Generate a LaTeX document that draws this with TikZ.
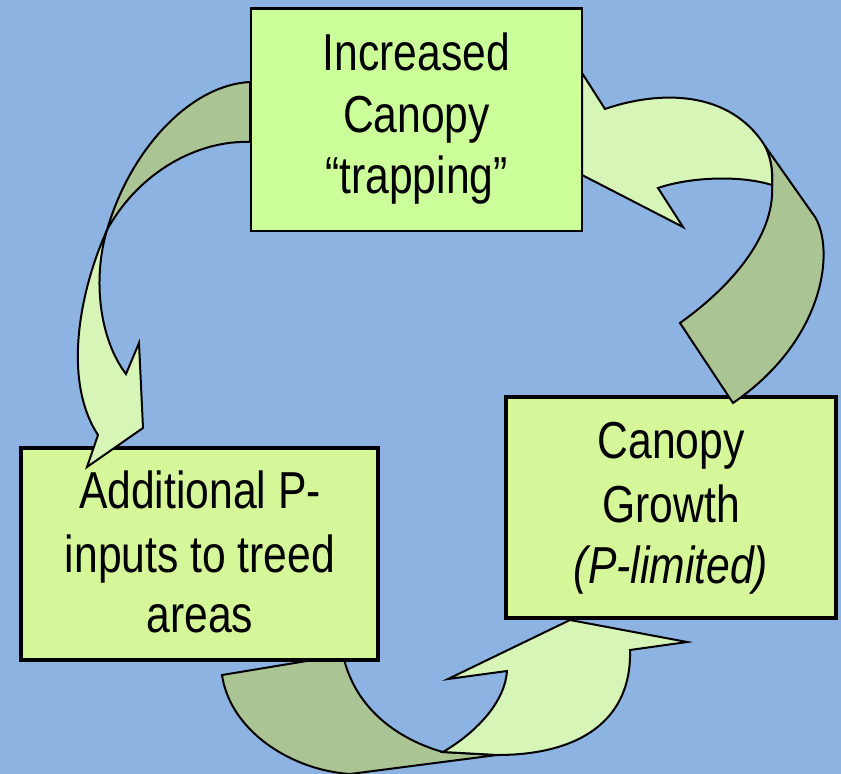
\documentclass[tikz,border=0pt]{standalone}
\usepackage{fontspec}
\setmainfont{Liberation Sans}[FakeStretch=0.82]
\definecolor{bgc}{RGB}{141,179,226}
\definecolor{darkg}{RGB}{171,196,147}
\definecolor{lightg}{RGB}{214,245,182}
\definecolor{topfill}{RGB}{204,255,153}
\definecolor{lowfill}{RGB}{213,247,153}
\begin{document}
\begin{tikzpicture}[x=1pt,y=-1pt,
  darkpart/.style={fill=darkg,draw=black,line width=2pt,line join=miter},
  lightpart/.style={fill=lightg,draw=black,line width=2pt,line join=miter},
  boxA/.style={draw=black,fill=topfill,line width=2.5pt,inner sep=0pt},
  boxB/.style={draw=black,fill=lowfill,line width=4pt,inner sep=0pt},
  lbl/.style={inner sep=0pt,anchor=base,font=\fontsize{52}{62}\selectfont}]
\useasboundingbox (0,0) rectangle (841,774);
\fill[bgc] (0,0) rectangle (841,774);

% right box
\node[boxB,minimum width=330pt,minimum height=221pt] (grow) at (671,507.5) {};

% bottom arrow (left box -> right box)
\draw[darkpart] (222,675) -- (343,655)
  .. controls (355,710) and (400,740) .. (443,752)
  -- (497,755) -- (350,774)
  .. controls (290,770) and (230,730) .. (222,675) -- cycle;
\draw[lightpart] (443,752)
  .. controls (480,730) and (505,700) .. (507,671)
  -- (448,679) -- (570,620) -- (687,642) -- (630,650)
  .. controls (632,720) and (580,755) .. (497,755) -- cycle;

% left box
\node[boxB,minimum width=357pt,minimum height=212pt] (inputs) at (199.5,554) {};

% top-right arrow (right box -> top box)
\draw[darkpart] (765,146) -- (815,217)
  .. controls (835,250) and (825,340) .. (733,403)
  -- (680,323)
  .. controls (740,280) and (775,230) .. (772,185)
  .. controls (773,172) and (771,158) .. (765,146) -- cycle;
\draw[lightpart] (582,73) -- (605,109)
  .. controls (660,90) and (730,90) .. (765,146)
  .. controls (771,158) and (773,172) .. (772,185)
  .. controls (740,175) and (690,177) .. (658,188)
  -- (683,227) -- (582,175) -- cycle;

% top box
\node[boxA,minimum width=331pt,minimum height=222.5pt] (trap) at (416.5,119.75) {};

% left arrow (top box -> left box)
\draw[darkpart] (250,82)
  .. controls (190,85) and (130,150) .. (107,230)
  .. controls (140,170) and (200,140) .. (250,142) -- cycle;
\draw[lightpart] (107,230)
  .. controls (80,290) and (62,380) .. (98,435)
  -- (87,467) -- (143,428) -- (139,343) -- (126,374)
  .. controls (100,340) and (92,280) .. (107,230) -- cycle;

% texts
\node[lbl] (t1) at (416.5,70) {Increased};
\node[lbl] (t2) at (416.5,132) {Canopy};
\node[lbl] (t3) at (416.5,193) {“trapping”};
\node[lbl] (g1) at (671,458) {Canopy};
\node[lbl] (g2) at (671,522) {Growth};
\node[lbl] (g3) at (671,583) {\itshape (P-limited)};
\node[lbl] (a1) at (200,508) {Additional P-};
\node[lbl] (a2) at (200,572) {inputs to treed};
\node[lbl] (a3) at (200,632) {areas};
\end{tikzpicture}
\end{document}
